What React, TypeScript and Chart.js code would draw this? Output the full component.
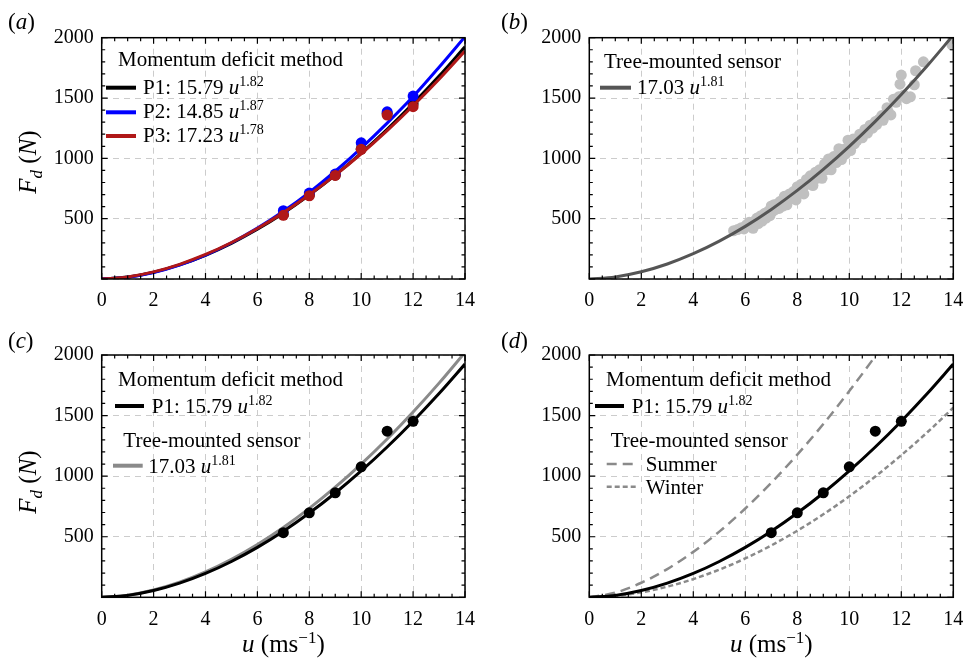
import React, { useEffect, useRef } from 'react';
import { Chart, registerables } from 'chart.js';

Chart.register(...registerables);

// ---------- data ----------
const U_FIT = [0, 1, 2, 3, 4, 5, 6, 7, 8, 9, 10, 11, 12, 13, 14];
const P1_FIT = [0, 15.8, 55.8, 116.6, 196.9, 295.5, 411.8, 544.9, 695.2, 861.2, 1043.3, 1240.8, 1453.8, 1681.7, 1924.8];
const P2_FIT = [0, 14.9, 54.3, 115.9, 198.4, 300.5, 421.5, 561.0, 718.0, 893.0, 1085.0, 1292.0, 1512.0, 1755.0, 2008.0];
const P3_FIT = [0, 17.2, 59.2, 121.8, 203.2, 302.4, 418.3, 550.2, 697.6, 860.6, 1038.2, 1230.2, 1436.4, 1656.0, 1890.0];
const TREE_FIT = [0, 17.0, 59.7, 124.4, 209.4, 313.7, 436.2, 576.6, 734.2, 908.7, 1099.6, 1306.6, 1529.5, 1767.8, 2021.8];
const U_SUMMER = [0, 1, 2, 3, 4, 5, 6, 7, 8, 9, 10, 11, 12];
const SUMMER_FIT = [0, 38.1, 120, 233, 375, 542, 733, 945, 1178, 1430, 1702, 1991, 2297];
const WINTER_FIT = [0, 11.3, 41.1, 87.8, 150.3, 228.2, 320.9, 428.0, 549.6, 684.9, 834.0, 996.8, 1173, 1362, 1565];

const U_MEAS = [7, 8, 9, 10, 11, 12];
const P1_MEAS = [533, 697, 862, 1077, 1371, 1453];
const P2_MEAS = [566, 712, 870, 1129, 1386, 1516];
const P3_MEAS = [528, 690, 858, 1075, 1359, 1428];

const TREE_U = [
  5.55, 5.7, 5.85, 5.95, 6.05, 6.15, 6.2, 6.3, 6.35, 6.45, 6.5, 6.6, 6.65, 6.75, 6.8, 6.9, 6.95,
  7.0, 7.05, 7.1, 7.15, 7.25, 7.3, 7.35, 7.45, 7.5, 7.55, 7.6, 7.7, 7.75, 7.85, 7.9, 7.95,
  8.0, 8.05, 8.15, 8.2, 8.25, 8.35, 8.4, 8.5, 8.55, 8.6, 8.7, 8.75, 8.85, 8.9, 8.95,
  9.05, 9.1, 9.2, 9.25, 9.3, 9.4, 9.5, 9.6, 9.65, 9.7, 9.8, 9.85, 9.95,
  10.0, 10.05, 10.15, 10.2, 10.3, 10.4, 10.5, 10.6, 10.7, 10.8, 10.9,
  11.0, 11.05, 11.15, 11.25, 11.3, 11.45, 11.5, 11.6, 11.7, 11.8, 11.9, 11.95,
  12.0, 12.1, 12.2, 12.35, 12.5, 12.55, 12.85, 13.95,
];
const TREE_F = [
  400, 410, 425, 415, 450, 470, 440, 420, 480, 505, 460, 525, 480, 545, 505, 565, 525,
  605, 560, 615, 575, 625, 585, 645, 605, 685, 645, 615, 705, 665, 725, 685, 655,
  765, 725, 785, 745, 705, 825, 785, 855, 805, 775, 885, 835, 905, 865, 835,
  955, 905, 995, 945, 905, 1015, 965, 1080, 1025, 990, 1075, 1035, 1150,
  1105, 1065, 1160, 1120, 1150, 1200, 1170, 1240, 1210, 1275, 1250,
  1305, 1280, 1325, 1355, 1315, 1420, 1385, 1360, 1490, 1465, 1510, 1615,
  1690, 1525, 1495, 1510, 1610, 1726, 1800, 1940,
];

const X_MIN = 0, X_MAX = 14, X_STEP = 2;
const Y_MIN = 0, Y_MAX = 2000, Y_STEP = 500;

// ---------- helpers ----------
const FONT = '"Liberation Serif", "Times New Roman", serif';
const BLACK = '#000000';
const BLUE = '#0000ff';
const RED = '#b01818';
const DARK_GRAY = '#555555';
const MID_GRAY = '#8a8a8a';
const LIGHT_GRAY = '#c0c0c0';

const zip = (xs: number[], ys: number[]) => xs.map((x, i) => ({ x, y: ys[i] }));

function curve(xs: number[], ys: number[], color: string, width = 3, dash: number[] = []) {
  return {
    data: zip(xs, ys),
    showLine: true,
    borderColor: color,
    borderWidth: width,
    borderDash: dash,
    pointRadius: 0,
    pointHoverRadius: 0,
    cubicInterpolationMode: 'monotone',
    fill: false,
    clip: 0,
  };
}
function points(xs: number[], ys: number[], color: string, r = 5.5) {
  return {
    data: zip(xs, ys),
    showLine: false,
    backgroundColor: color,
    borderColor: color,
    borderWidth: 0,
    pointRadius: r,
    pointHoverRadius: r,
    clip: 0,
  };
}

type Part = { t: string; it?: boolean; sup?: boolean; sub?: boolean };

function richWidth(ctx: CanvasRenderingContext2D, parts: Part[], size: number) {
  let w = 0;
  for (const p of parts) {
    const s = p.sup || p.sub ? Math.round(size * 0.68) : size;
    ctx.font = `${p.it ? 'italic ' : ''}${s}px ${FONT}`;
    w += ctx.measureText(p.t).width;
  }
  return w;
}
function drawRich(ctx: CanvasRenderingContext2D, x: number, y: number, parts: Part[], size: number) {
  let cx = x;
  ctx.textAlign = 'left';
  ctx.textBaseline = 'alphabetic';
  for (const p of parts) {
    const s = p.sup || p.sub ? Math.round(size * 0.68) : size;
    ctx.font = `${p.it ? 'italic ' : ''}${s}px ${FONT}`;
    const dy = p.sup ? -size * 0.37 : p.sub ? size * 0.24 : 0;
    ctx.fillText(p.t, cx, y + dy);
    cx += ctx.measureText(p.t).width;
  }
}

type LegendItem =
  | { kind: 'text'; x: number; y: number; parts: Part[] }
  | { kind: 'line'; x1: number; x2: number; y: number; color: string; dash?: number[]; width?: number };

type Panel = {
  key: string;
  box: { x: number; y: number; w: number; h: number };
  area: { l: number; t: number; r: number; b: number };
  datasets: any[];
  label: { t: string; x: number; y: number };
  legend: LegendItem[];
  yTitle?: { cx: number; cy: number };
  xTitle?: { cx: number; y: number };
};

const LEG = 21;

const fitText = (lead: string, exp: string): Part[] => [{ t: lead }, { t: 'u', it: true }, { t: exp, sup: true }];

const PANELS: Panel[] = [
  {
    key: 'a',
    box: { x: 0, y: 0, w: 480, h: 320 },
    area: { l: 101.7, t: 37.7, r: 465, b: 279 },
    datasets: [
      points(U_MEAS, P3_MEAS, RED),
      curve(U_FIT, P3_FIT, RED),
      points(U_MEAS, P2_MEAS, BLUE),
      curve(U_FIT, P2_FIT, BLUE),
      points(U_MEAS, P1_MEAS, BLACK),
      curve(U_FIT, P1_FIT, BLACK),
    ],
    label: { t: 'a', x: 8, y: 29 },
    legend: [
      { kind: 'text', x: 118, y: 66, parts: [{ t: 'Momentum deficit method' }] },
      { kind: 'line', x1: 106, x2: 136, y: 87.7, color: BLACK },
      { kind: 'text', x: 143, y: 94, parts: fitText('P1: 15.79 ', '1.82') },
      { kind: 'line', x1: 106, x2: 136, y: 112.3, color: BLUE },
      { kind: 'text', x: 143, y: 118, parts: fitText('P2: 14.85 ', '1.87') },
      { kind: 'line', x1: 106, x2: 136, y: 136, color: RED },
      { kind: 'text', x: 143, y: 142, parts: fitText('P3: 17.23 ', '1.78') },
    ],
    yTitle: { cx: 28, cy: 162 },
  },
  {
    key: 'b',
    box: { x: 480, y: 0, w: 485, h: 320 },
    area: { l: 589.3, t: 37.7, r: 953.3, b: 279 },
    datasets: [curve(U_FIT, TREE_FIT, DARK_GRAY), points(TREE_U, TREE_F, LIGHT_GRAY)],
    label: { t: 'b', x: 501, y: 29 },
    legend: [
      { kind: 'text', x: 604, y: 68, parts: [{ t: 'Tree-mounted sensor' }] },
      { kind: 'line', x1: 600, x2: 631, y: 87.7, color: DARK_GRAY },
      { kind: 'text', x: 637, y: 94, parts: fitText('17.03 ', '1.81') },
    ],
  },
  {
    key: 'c',
    box: { x: 0, y: 320, w: 480, h: 339 },
    area: { l: 101.7, t: 355, r: 465, b: 597.3 },
    datasets: [points(U_MEAS, P1_MEAS, BLACK), curve(U_FIT, P1_FIT, BLACK), curve(U_FIT, TREE_FIT, MID_GRAY)],
    label: { t: 'c', x: 8, y: 348 },
    legend: [
      { kind: 'text', x: 118, y: 386, parts: [{ t: 'Momentum deficit method' }] },
      { kind: 'line', x1: 115, x2: 144, y: 406, color: BLACK },
      { kind: 'text', x: 151.7, y: 413, parts: fitText('P1: 15.79 ', '1.82') },
      { kind: 'text', x: 123.3, y: 446.7, parts: [{ t: 'Tree-mounted sensor' }] },
      { kind: 'line', x1: 113, x2: 142.7, y: 465.7, color: MID_GRAY },
      { kind: 'text', x: 148.3, y: 473, parts: fitText('17.03 ', '1.81') },
    ],
    yTitle: { cx: 28, cy: 482 },
    xTitle: { cx: 283.4, y: 652 },
  },
  {
    key: 'd',
    box: { x: 480, y: 320, w: 485, h: 339 },
    area: { l: 589.3, t: 355, r: 953.3, b: 597.3 },
    datasets: [
      points(U_MEAS, P1_MEAS, BLACK),
      curve(U_FIT, P1_FIT, BLACK),
      curve(U_SUMMER, SUMMER_FIT, MID_GRAY, 2.5, [10, 6]),
      curve(U_FIT, WINTER_FIT, MID_GRAY, 2.5, [5, 3]),
    ],
    label: { t: 'd', x: 501, y: 348 },
    legend: [
      { kind: 'text', x: 606, y: 386, parts: [{ t: 'Momentum deficit method' }] },
      { kind: 'line', x1: 595, x2: 624, y: 406, color: BLACK },
      { kind: 'text', x: 631.7, y: 413, parts: fitText('P1: 15.79 ', '1.82') },
      { kind: 'text', x: 610.7, y: 446.7, parts: [{ t: 'Tree-mounted sensor' }] },
      { kind: 'line', x1: 606.7, x2: 636.7, y: 464, color: MID_GRAY, dash: [10, 6], width: 2.5 },
      { kind: 'text', x: 645.7, y: 470.7, parts: [{ t: 'Summer' }] },
      { kind: 'line', x1: 606.7, x2: 636.7, y: 486.7, color: MID_GRAY, dash: [5, 3], width: 2.5 },
      { kind: 'text', x: 645.7, y: 494, parts: [{ t: 'Winter' }] },
    ],
    xTitle: { cx: 771.3, y: 652 },
  },
];

function decorPlugin(panel: Panel) {
  return {
    id: 'decor_' + panel.key,
    afterDraw(chart: any) {
      const ctx: CanvasRenderingContext2D = chart.ctx;
      const xs = chart.scales.x;
      const ys = chart.scales.y;
      const { left, right, top, bottom } = chart.chartArea;
      ctx.save();
      // frame
      ctx.strokeStyle = '#000';
      ctx.lineWidth = 1.5;
      ctx.setLineDash([]);
      ctx.strokeRect(left, top, right - left, bottom - top);
      // inward ticks on all four sides
      ctx.lineWidth = 1.2;
      ctx.beginPath();
      const nx = Math.round((X_MAX - X_MIN) / 0.5);
      for (let i = 0; i <= nx; i++) {
        const px = xs.getPixelForValue(X_MIN + i * 0.5);
        const len = i % 4 === 0 ? 6 : 3.5;
        ctx.moveTo(px, bottom);
        ctx.lineTo(px, bottom - len);
        ctx.moveTo(px, top);
        ctx.lineTo(px, top + len);
      }
      const ny = Math.round((Y_MAX - Y_MIN) / 100);
      for (let i = 0; i <= ny; i++) {
        const py = ys.getPixelForValue(Y_MIN + i * 100);
        const len = i % 5 === 0 ? 6 : 3.5;
        ctx.moveTo(left, py);
        ctx.lineTo(left + len, py);
        ctx.moveTo(right, py);
        ctx.lineTo(right - len, py);
      }
      ctx.stroke();

      const ox = panel.box.x;
      const oy = panel.box.y;
      ctx.fillStyle = '#000';
      // panel label
      drawRich(ctx, panel.label.x - ox, panel.label.y - oy, [{ t: '(' }, { t: panel.label.t, it: true }, { t: ')' }], 23);
      // legend
      for (const it of panel.legend) {
        if (it.kind === 'text') {
          drawRich(ctx, it.x - ox, it.y - oy, it.parts, LEG);
        } else {
          ctx.beginPath();
          ctx.strokeStyle = it.color;
          ctx.lineWidth = it.width ?? 4;
          ctx.setLineDash(it.dash ?? []);
          ctx.moveTo(it.x1 - ox, it.y - oy);
          ctx.lineTo(it.x2 - ox, it.y - oy);
          ctx.stroke();
          ctx.setLineDash([]);
        }
      }
      // y title
      if (panel.yTitle) {
        const parts: Part[] = [{ t: 'F', it: true }, { t: 'd', it: true, sub: true }, { t: ' (' }, { t: 'N', it: true }, { t: ')' }];
        const size = 25;
        const w = richWidth(ctx, parts, size);
        ctx.save();
        ctx.translate(panel.yTitle.cx - ox + 8, panel.yTitle.cy - oy);
        ctx.rotate(-Math.PI / 2);
        drawRich(ctx, -w / 2, 0, parts, size);
        ctx.restore();
      }
      // x title
      if (panel.xTitle) {
        const parts: Part[] = [{ t: 'u', it: true }, { t: ' (ms' }, { t: '\u22121', sup: true }, { t: ')' }];
        const size = 25;
        const w = richWidth(ctx, parts, size);
        drawRich(ctx, panel.xTitle.cx - ox - w / 2, panel.xTitle.y - oy, parts, size);
      }
      ctx.restore();
    },
  };
}

function PanelChart({ panel }: { panel: Panel }) {
  const ref = useRef<HTMLCanvasElement | null>(null);
  useEffect(() => {
    if (!ref.current) return;
    const { box, area } = panel;
    const yAxisWidth = area.l - box.x;
    const xAxisHeight = box.y + box.h - area.b;
    const tickFont = { family: FONT, size: 20 };
    const chart = new Chart(ref.current, {
      type: 'scatter',
      data: { datasets: panel.datasets as any },
      options: {
        animation: false,
        responsive: false,
        devicePixelRatio: 1,
        events: [],
        layout: { padding: { left: 0, top: area.t - box.y, right: box.x + box.w - area.r, bottom: 0 } },
        plugins: { legend: { display: false }, tooltip: { enabled: false } },
        scales: {
          x: {
            type: 'linear',
            min: X_MIN,
            max: X_MAX,
            afterFit: (s: any) => {
              s.height = xAxisHeight;
              s.paddingLeft = 0;
              s.paddingRight = 0;
            },
            ticks: { stepSize: X_STEP, font: tickFont, color: '#000', padding: 10, maxRotation: 0, autoSkip: false },
            grid: { color: '#cccccc', lineWidth: 1, drawTicks: false },
            border: { display: false, dash: [6, 5] },
          },
          y: {
            type: 'linear',
            min: Y_MIN,
            max: Y_MAX,
            afterFit: (s: any) => {
              s.width = yAxisWidth;
              s.paddingTop = 0;
              s.paddingBottom = 0;
            },
            ticks: {
              stepSize: Y_STEP,
              font: tickFont,
              color: '#000',
              padding: 8,
              autoSkip: false,
              callback: (v: any) => (Number(v) === 0 ? '' : String(v)),
            },
            grid: { color: '#cccccc', lineWidth: 1, drawTicks: false },
            border: { display: false, dash: [6, 5] },
          },
        },
      } as any,
      plugins: [decorPlugin(panel)],
    });
    return () => chart.destroy();
  }, [panel]);
  return (
    <canvas
      ref={ref}
      width={panel.box.w}
      height={panel.box.h}
      style={{ position: 'absolute', left: panel.box.x, top: panel.box.y, width: panel.box.w, height: panel.box.h }}
    />
  );
}

export default function App() {
  return (
    <div style={{ position: 'fixed', left: 0, top: 0, width: 965, height: 659, background: '#fff', overflow: 'hidden' }}>
      {PANELS.map((p) => (
        <PanelChart key={p.key} panel={p} />
      ))}
    </div>
  );
}
